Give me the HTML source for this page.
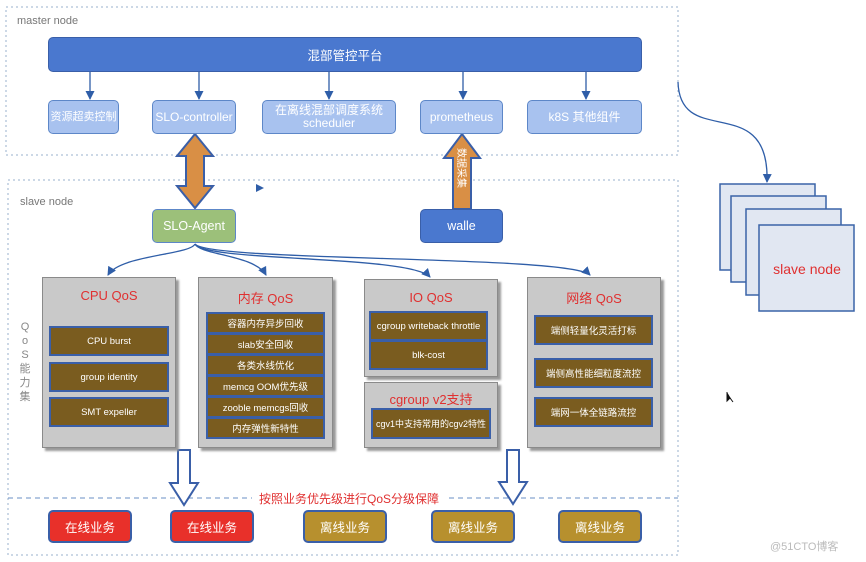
<!DOCTYPE html><html><head><meta charset="utf-8"><style>
body{margin:0;width:866px;height:562px;background:#fff;position:relative;overflow:hidden;font-family:"Liberation Sans","Noto Sans CJK SC",sans-serif;}
.a{position:absolute;box-sizing:border-box;display:flex;align-items:center;justify-content:center;text-align:center;}
.lb{background:#a8c2ef;border:1.5px solid #5d87c8;border-radius:5px;color:#fff;font-size:12px;line-height:13px;}
.gp{background:#c9c9c9;border:1px solid #8a8a8a;box-shadow:3px 3px 2px #999;align-items:flex-start;color:#e03030;font-size:13px;padding-top:10px;}
.br{background:#7a5c1f;border:2px solid #3a5fa8;color:#fff;font-size:9.5px;white-space:nowrap;}
.bt{border:2px solid #3a5fa8;border-radius:5px;color:#fff;font-size:12.5px;}
</style></head><body>
<svg style="position:absolute;left:0;top:0" width="866" height="562">
<defs>
<marker id="t" markerWidth="9" markerHeight="9" refX="8" refY="4.5" orient="auto" markerUnits="userSpaceOnUse"><path d="M0,0 L9,4.5 L0,9Z" fill="#2f5ea8"/></marker></defs>
<rect x="6" y="7" width="672" height="148" fill="none" stroke="#9ab0cc" stroke-dasharray="2,3"/>
<rect x="8" y="180" width="670" height="375" fill="none" stroke="#9ab0cc" stroke-dasharray="2,3"/>
<line x1="8" y1="498" x2="678" y2="498" stroke="#6a8fc4" stroke-dasharray="5,4"/>
<g stroke="#2f5ea8" stroke-width="1.3" fill="none" marker-end="url(#t)">
<line x1="90" y1="71" x2="90" y2="99"/><line x1="199" y1="71" x2="199" y2="99"/><line x1="329" y1="71" x2="329" y2="99"/><line x1="463" y1="71" x2="463" y2="99"/><line x1="586" y1="71" x2="586" y2="99"/>
<path d="M678,82 C680,150 770,90 767,182"/>
<path d="M195,244 C190,255 120,255 108,275"/>
<path d="M195,244 C200,255 255,255 266,275"/>
<path d="M195,244 C205,262 410,255 430,277"/>
<path d="M195,244 C210,262 570,255 590,275"/>
</g>
<path d="M256,184 L264,188 L256,192Z" fill="#2f5ea8"/>
<path d="M195,134 L213,156 L204,156 L204,186 L213,186 L195,208 L177,186 L186,186 L186,156 L177,156Z" fill="#d98f45" stroke="#3a5fa8" stroke-width="2"/>
<path d="M462,134 L480,158 L471,158 L471,209 L453,209 L453,158 L444,158Z" fill="#d98f45" stroke="#3a5fa8" stroke-width="2"/>
<text transform="translate(458,148) rotate(90)" fill="#fff" font-size="10" font-family="Noto Sans CJK SC">数据采集</text>
<path d="M178,450 L190,450 L190,483 L198,483 L184,505 L170,483 L178,483Z" fill="#fff" stroke="#3a5fa8" stroke-width="2"/>
<path d="M507,450 L519,450 L519,482 L527,482 L513,504 L499,482 L507,482Z" fill="#fff" stroke="#3a5fa8" stroke-width="2"/>
<g fill="#e1e7f2" stroke="#3a64a8" stroke-width="1.5">
<rect x="720" y="184" width="95" height="86"/><rect x="731" y="196" width="95" height="86"/><rect x="746" y="209" width="95" height="86"/><rect x="759" y="225" width="95" height="86"/></g>
<text x="807" y="274" fill="#e03030" font-size="14" text-anchor="middle">slave node</text>
<path d="M727,392 L727,401 L730,398 L733,402" fill="#111" stroke="#111" stroke-width="1"/>
</svg>
<div class="a" style="left:17px;top:15px;font-size:11px;color:#777">master node</div>
<div class="a" style="left:20px;top:196px;font-size:11px;color:#777">slave node</div>
<div class="a" style="left:48px;top:37px;width:594px;height:35px;background:#4a78cf;border:1.5px solid #3a5fa8;border-radius:5px;color:#fff;font-size:12.5px">混部管控平台</div>
<div class="a lb" style="left:48px;top:100px;width:71px;height:34px;font-size:11px;white-space:nowrap">资源超卖控制</div>
<div class="a lb" style="left:152px;top:100px;width:84px;height:34px">SLO-controller</div>
<div class="a lb" style="left:262px;top:100px;width:134px;height:34px">在离线混部调度系统<br>scheduler</div>
<div class="a lb" style="left:420px;top:100px;width:83px;height:34px">prometheus</div>
<div class="a lb" style="left:527px;top:100px;width:115px;height:34px">k8S 其他组件</div>
<div class="a" style="left:152px;top:209px;width:84px;height:34px;background:#9cc07a;border:1.5px solid #5d87c8;border-radius:5px;color:#fff;font-size:12.5px">SLO-Agent</div>
<div class="a" style="left:420px;top:209px;width:83px;height:34px;background:#4a78cf;border:1.5px solid #3a5fa8;border-radius:5px;color:#fff;font-size:12.5px">walle</div>
<div class="a" style="left:18px;top:320px;width:14px;font-size:11px;color:#888;line-height:14px;flex-direction:column">Q<br>o<br>S<br>能<br>力<br>集</div>
<div class="a gp" style="left:42px;top:277px;width:134px;height:171px">CPU QoS</div>
<div class="a gp" style="left:198px;top:277px;width:135px;height:171px">内存 QoS</div>
<div class="a gp" style="left:364px;top:279px;width:134px;height:98px">IO QoS</div>
<div class="a gp" style="left:364px;top:382px;width:134px;height:66px;padding-top:6px">cgroup v2支持</div>
<div class="a gp" style="left:527px;top:277px;width:134px;height:171px">网络 QoS</div>
<div class="a br" style="left:49px;top:326px;width:120px;height:30px">CPU burst</div>
<div class="a br" style="left:49px;top:362px;width:120px;height:30px">group identity</div>
<div class="a br" style="left:49px;top:397px;width:120px;height:30px">SMT expeller</div>
<div class="a br" style="left:206px;top:312px;width:119px;height:22px">容器内存异步回收</div>
<div class="a br" style="left:206px;top:333px;width:119px;height:22px">slab安全回收</div>
<div class="a br" style="left:206px;top:354px;width:119px;height:22px">各类水线优化</div>
<div class="a br" style="left:206px;top:375px;width:119px;height:22px">memcg OOM优先级</div>
<div class="a br" style="left:206px;top:396px;width:119px;height:22px">zooble memcgs回收</div>
<div class="a br" style="left:206px;top:417px;width:119px;height:22px">内存弹性新特性</div>
<div class="a br" style="left:369px;top:311px;width:119px;height:30px">cgroup writeback throttle</div>
<div class="a br" style="left:369px;top:340px;width:119px;height:30px">blk-cost</div>
<div class="a br" style="left:371px;top:408px;width:120px;height:31px;font-size:9px">cgv1中支持常用的cgv2特性</div>
<div class="a br" style="left:534px;top:315px;width:119px;height:30px">端侧轻量化灵活打标</div>
<div class="a br" style="left:534px;top:358px;width:119px;height:30px">端侧高性能细粒度流控</div>
<div class="a br" style="left:534px;top:397px;width:119px;height:30px">端网一体全链路流控</div>
<div class="a" style="left:252px;top:490px;width:194px;height:16px;background:#fff;color:#e03030;font-size:12px">按照业务优先级进行QoS分级保障</div>
<div class="a bt" style="left:48px;top:510px;width:84px;height:33px;background:#e8302a">在线业务</div>
<div class="a bt" style="left:170px;top:510px;width:84px;height:33px;background:#e8302a">在线业务</div>
<div class="a bt" style="left:303px;top:510px;width:84px;height:33px;background:#b7902e">离线业务</div>
<div class="a bt" style="left:431px;top:510px;width:84px;height:33px;background:#b7902e">离线业务</div>
<div class="a bt" style="left:558px;top:510px;width:84px;height:33px;background:#b7902e">离线业务</div>
<div class="a" style="left:770px;top:538px;font-size:11px;color:#bbb">@51CTO博客</div>
</body></html>
